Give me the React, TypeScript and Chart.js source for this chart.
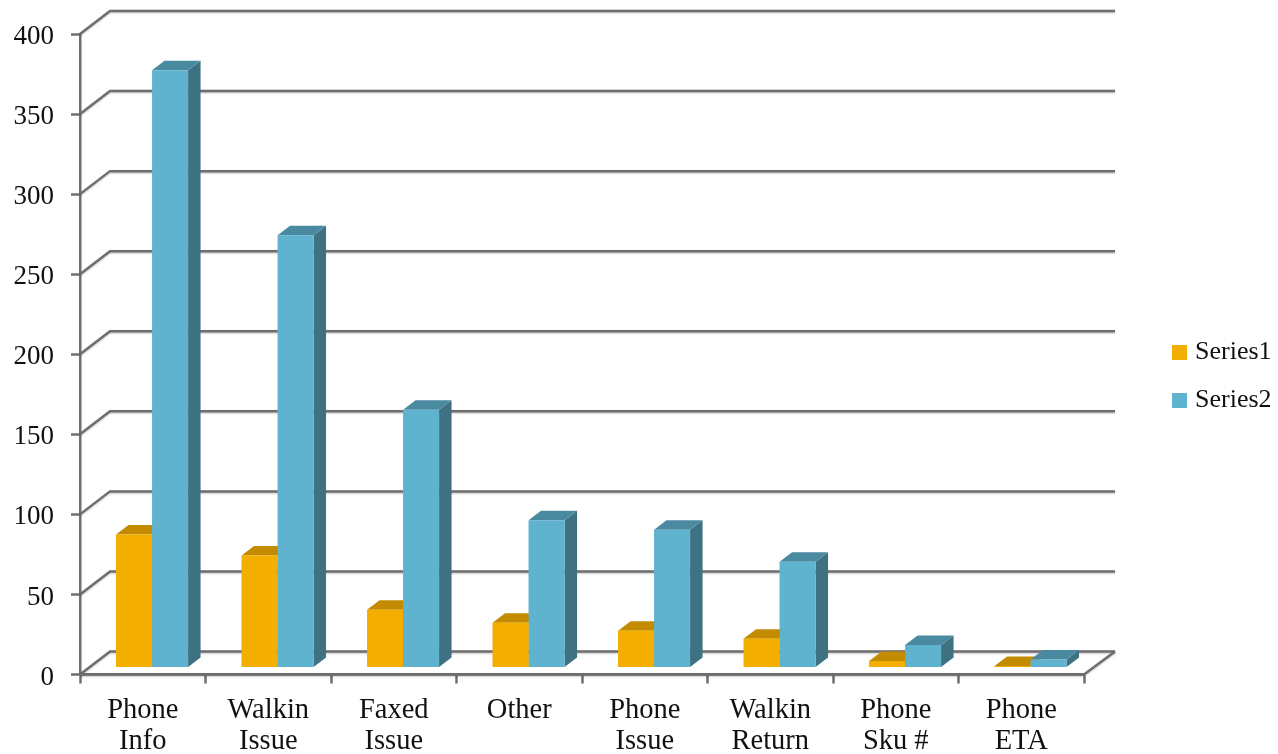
import { useEffect, useRef } from "react";
import { Chart, registerables } from "chart.js";

Chart.register(...registerables);

const categories = [
  ["Phone", "Info"],
  ["Walkin", "Issue"],
  ["Faxed", "Issue"],
  ["Other"],
  ["Phone", "Issue"],
  ["Walkin", "Return"],
  ["Phone", "Sku #"],
  ["Phone", "ETA"],
];
const series1 = [83, 70, 36, 28, 23, 18, 4, 1];
const series2 = [373, 270, 161, 92, 86, 66, 14, 5];

const GRID = "#6E6E6E";
const SERIF = "'Liberation Serif', serif";

// Offset from the front plane of the box to its back wall.
const WALL_DX = 30;
const WALL_DY = -23;
// Offset from the front plane to the front face of the columns.
const BAR_DX = 9.3;
const BAR_DY = -7;
// Depth of each column.
const DEPTH_DX = 12.5;
const DEPTH_DY = -9.5;

const faces = [
  { top: "#C38B00", side: "#A87800" },
  { top: "#4A8AA0", side: "#3E7282" },
];

const polygon = (ctx: CanvasRenderingContext2D, pts: number[][], fill: string) => {
  ctx.fillStyle = fill;
  ctx.beginPath();
  pts.forEach(([x, y], i) => (i ? ctx.lineTo(x, y) : ctx.moveTo(x, y)));
  ctx.closePath();
  ctx.fill();
};

const box3d = {
  id: "box3d",
  afterLayout(chart: any) {
    // Park the legend to the right of the box, outside the plot area.
    const legend = chart.legend;
    legend.left = 1155;
    legend.right = 1278;
    legend.top = 317.5;
    legend.bottom = 500;
    legend.width = 123;
    legend.height = 182.5;
  },
  beforeDatasetsDraw(chart: any) {
    const { ctx, chartArea, scales } = chart;
    ctx.save();
    ctx.strokeStyle = GRID;
    ctx.lineWidth = 2.5;
    ctx.lineJoin = "miter";
    ctx.shadowColor = "rgba(0,0,0,0.22)";
    ctx.shadowBlur = 2;
    ctx.shadowOffsetY = 1;
    for (const tick of scales.y.ticks) {
      const y = scales.y.getPixelForValue(tick.value);
      ctx.beginPath();
      ctx.moveTo(chartArea.left, y);
      ctx.lineTo(chartArea.left + WALL_DX, y + WALL_DY);
      ctx.lineTo(chartArea.right + WALL_DX + 1, y + WALL_DY);
      ctx.stroke();
    }
    // Floor: front edge and right edge.
    const y0 = scales.y.getPixelForValue(0);
    ctx.beginPath();
    ctx.moveTo(chartArea.right + WALL_DX + 1, y0 + WALL_DY);
    ctx.lineTo(chartArea.right, y0);
    ctx.lineTo(chartArea.left, y0);
    ctx.stroke();
    ctx.restore();

    // The column fronts are drawn by the bar controller inside this shifted frame.
    ctx.save();
    ctx.translate(BAR_DX, BAR_DY);

    // Side and top faces go first, left series before right, so that the
    // fronts painted afterwards hide whatever they should.
    faces.forEach((colours, index) => {
      for (const bar of chart.getDatasetMeta(index).data) {
        const { x, y, base, width } = bar.getProps(["x", "y", "base", "width"], true);
        const l = x - width / 2;
        const r = x + width / 2;
        polygon(ctx, [[r, y], [r + DEPTH_DX, y + DEPTH_DY], [r + DEPTH_DX, base + DEPTH_DY], [r, base]], colours.side);
        polygon(ctx, [[l, y], [r, y], [r + DEPTH_DX, y + DEPTH_DY], [l + DEPTH_DX, y + DEPTH_DY]], colours.top);
      }
    });
  },
  afterDatasetsDraw(chart: any) {
    chart.ctx.restore();
  },
};

export default function App() {
  const ref = useRef<HTMLCanvasElement>(null);

  useEffect(() => {
    const chart = new Chart(ref.current!, {
      type: "bar",
      data: {
        labels: categories,
        datasets: [
          { label: "Series1", data: series1, backgroundColor: "#F3AE00" },
          { label: "Series2", data: series2, backgroundColor: "#5FB3CE" },
        ],
      },
      plugins: [box3d],
      options: {
        responsive: false,
        animation: false,
        layout: { padding: { left: 0, top: 34, right: 194, bottom: 0 } },
        datasets: { bar: { categoryPercentage: 0.574, barPercentage: 1, borderWidth: 0, clip: false } },
        plugins: {
          tooltip: { enabled: false },
          legend: {
            position: "chartArea",
            align: "start",
            labels: {
              usePointStyle: true,
              pointStyle: "rect",
              boxWidth: 5,
              boxHeight: 15,
              padding: 22,
              color: "#111",
              font: { family: SERIF, size: 26, lineHeight: 1 },
            },
          },
        },
        scales: {
          x: {
            afterFit: (axis: any) => {
              axis.height = 79.5;
            },
            border: { color: GRID, width: 2.5 },
            grid: {
              drawOnChartArea: false,
              drawTicks: true,
              tickLength: 9,
              tickColor: GRID,
              tickWidth: 2.5,
            },
            ticks: {
              color: "#111",
              autoSkip: false,
              maxRotation: 0,
              padding: 11,
              font: { family: SERIF, size: 28.5, lineHeight: 1.09 },
            },
          },
          y: {
            min: 0,
            max: 400,
            afterFit: (axis: any) => {
              axis.width = 80;
            },
            border: { color: GRID, width: 2.5 },
            grid: {
              drawOnChartArea: false,
              drawTicks: true,
              tickLength: 9,
              tickColor: GRID,
              tickWidth: 2.5,
            },
            ticks: {
              stepSize: 50,
              color: "#111",
              padding: 17,
              labelOffset: 3,
              font: { family: SERIF, size: 27 },
            },
          },
        },
      },
    } as any);
    return () => chart.destroy();
  }, []);

  return (
    <div style={{ position: "absolute", left: 0, top: 0 }}>
      <canvas ref={ref} width={1278} height={754} style={{ display: "block" }} />
    </div>
  );
}
